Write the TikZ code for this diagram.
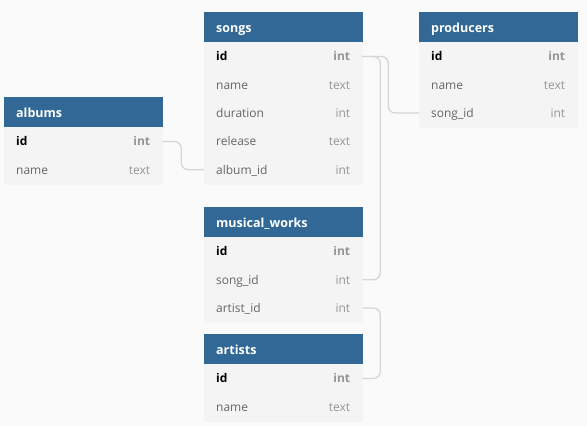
\documentclass[tikz,border=0pt]{standalone}
\usepackage{fontspec}
\setmainfont{Open Sans}
\usepackage{tikz}
\usetikzlibrary{positioning}
\definecolor{headblue}{HTML}{316896}
\definecolor{rowfill}{HTML}{F4F4F4}
\definecolor{pagebg}{HTML}{FAFAFA}
\definecolor{namegray}{HTML}{666666}
\definecolor{typegray}{HTML}{959595}
\definecolor{linkgray}{HTML}{D6D6D6}
\newcommand{\coltype}[1]{{\color{typegray}#1}}
\newcommand{\keycol}[1]{{\color{black}\bfseries #1}}
\newcommand{\keytype}[1]{{\color{typegray}\bfseries #1}}

\begin{document}
\begin{tikzpicture}[x=1pt,y=-1pt,
    tblhead/.style={anchor=north west, fill=headblue, draw=headblue, line width=0.3pt, text=white,
        font=\fontsize{12.5}{15}\selectfont\bfseries, text height=10pt, text depth=0pt,
        text width=134pt, inner xsep=12pt, inner ysep=0pt, minimum height=30pt, align=left},
    tblrow/.style={fill=rowfill, draw=rowfill, line width=0.3pt, text=namegray,
        font=\fontsize{12}{14}\selectfont, text height=9pt, text depth=0pt,
        text width=134pt, inner xsep=12pt, inner ysep=0pt, minimum height=28pt, align=left},
    link/.style={draw=linkgray, line width=1.3pt, rounded corners=7pt}]
    \fill[pagebg] (0,0) rectangle (587,426);
    % albums
    \node[tblhead] (albums) at (4,97) {albums};
    \node[tblrow, below=0pt of albums] (albumsid) {\keycol{id}\hfill\keytype{int}};
    \node[tblrow, below=0pt of albumsid] (albumsname) {name\hfill\coltype{text}};
    % songs
    \node[tblhead] (songs) at (204,12) {songs};
    \node[tblrow, below=0pt of songs] (songsid) {\keycol{id}\hfill\keytype{int}};
    \node[tblrow, below=0pt of songsid] (songsname) {name\hfill\coltype{text}};
    \node[tblrow, below=0pt of songsname] (songsduration) {duration\hfill\coltype{int}};
    \node[tblrow, below=0pt of songsduration] (songsrelease) {release\hfill\coltype{text}};
    \node[tblrow, below=0pt of songsrelease] (songsalbumid) {album\_id\hfill\coltype{int}};
    % producers
    \node[tblhead] (producers) at (419,12) {producers};
    \node[tblrow, below=0pt of producers] (producersid) {\keycol{id}\hfill\keytype{int}};
    \node[tblrow, below=0pt of producersid] (producersname) {name\hfill\coltype{text}};
    \node[tblrow, below=0pt of producersname] (producerssongid) {song\_id\hfill\coltype{int}};
    % musical_works
    \node[tblhead] (works) at (204,207) {musical\_works};
    \node[tblrow, below=0pt of works] (worksid) {\keycol{id}\hfill\keytype{int}};
    \node[tblrow, below=0pt of worksid] (workssongid) {song\_id\hfill\coltype{int}};
    \node[tblrow, below=0pt of workssongid] (worksartistid) {artist\_id\hfill\coltype{int}};
    % artists
    \node[tblhead] (artists) at (204,334) {artists};
    \node[tblrow, below=0pt of artists] (artistsid) {\keycol{id}\hfill\keytype{int}};
    \node[tblrow, below=0pt of artistsid] (artistsname) {name\hfill\coltype{text}};
    % references
    \draw[link] (albumsid.east) -- ++(19,0) |- (songsalbumid.west);
    \draw[link] (songsid.east) -- ++(26,0) |- (producerssongid.west);
    \draw[link] (songsid.east) -- ++(18,0) |- (workssongid.east);
    \draw[link] (worksartistid.east) -- ++(18,0) |- (artistsid.east);
\end{tikzpicture}
\end{document}
